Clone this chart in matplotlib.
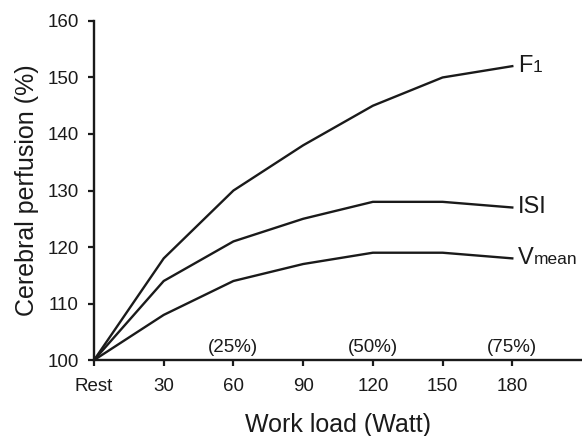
import matplotlib.pyplot as plt
from matplotlib.offsetbox import TextArea, HPacker, AnnotationBbox

plt.rcParams['font.family'] = ['Liberation Sans', 'DejaVu Sans']

# Work load (Watt); 0 = Rest
load = [0, 30, 60, 90, 120, 150, 180]
tick_labels = ['Rest', '30', '60', '90', '120', '150', '180']
f1 = [100, 118, 130, 138, 145, 150, 152]
isi = [100, 114, 121, 125, 128, 128, 127]
vmean = [100, 108, 114, 117, 119, 119, 118]

pct_pos = [60, 120, 180]
pct_labels = ['(25%)', '(50%)', '(75%)']

ink = '#1a1a1a'

fig = plt.figure(figsize=(5.82, 4.36), dpi=100)
ax = fig.add_axes([0.1615, 0.174, 0.8385, 0.778])

series = [(f1, 'F', '1'), (isi, 'ISI', ''), (vmean, 'V', 'mean')]
for vals, big, small in series:
    ax.plot(load, vals, color=ink, lw=1.7, solid_joinstyle='round', clip_on=False)
    parts = [TextArea(big, textprops=dict(size=17, color=ink))]
    if small:
        parts.append(TextArea(small, textprops=dict(size=12.5, color=ink)))
    box = HPacker(children=parts, align='baseline', pad=0, sep=0)
    ab = AnnotationBbox(box, (load[-1], vals[-1]), xybox=(4, 0),
                        xycoords='data', boxcoords='offset points',
                        box_alignment=(0, 0.5), frameon=False)
    ax.add_artist(ab)

for x, t in zip(pct_pos, pct_labels):
    ax.text(x, 100.8, t, ha='center', va='bottom', fontsize=13.5, color=ink)

ax.set_xlim(0, 210)
ax.set_ylim(100, 160)
ax.set_xticks(load)
ax.set_xticklabels(tick_labels)
ax.set_yticks(range(100, 161, 10))

for s in ['top', 'right']:
    ax.spines[s].set_visible(False)
for s in ['left', 'bottom']:
    ax.spines[s].set_linewidth(1.7)
    ax.spines[s].set_color(ink)

ax.tick_params(direction='out', length=4, width=1.6, colors=ink,
               labelsize=13.5, pad=7)
ax.tick_params(axis='x', pad=9)

ax.set_xlabel('Work load (Watt)', fontsize=18, color=ink, labelpad=13)
ax.set_ylabel('Cerebral perfusion (%)', fontsize=18, color=ink, labelpad=6)

fig.savefig('out.png', dpi=100)
